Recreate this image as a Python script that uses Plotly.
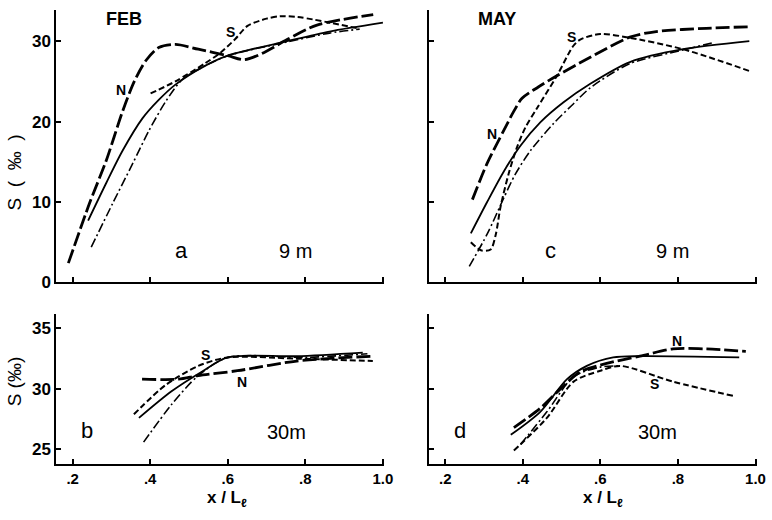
import plotly.graph_objects as go

# ---------------- data ----------------
x_ticks = [0.2, 0.4, 0.6, 0.8, 1.0]
x_ticktext = [".2", ".4", ".6", ".8", "1.0"]
y_ticks_9m = [0, 10, 20, 30]
y_ticks_30m = [25, 30, 35]

# Panel a: FEB, 9 m
a_N_x = [0.189, 0.244, 0.287, 0.329, 0.359, 0.389, 0.422, 0.465, 0.524, 0.6, 0.643, 0.694, 0.753, 0.83, 0.975]
a_N_y = [2.4, 9.9, 15.2, 21.3, 25.0, 27.6, 29.2, 29.6, 29.0, 28.2, 27.7, 28.6, 30.2, 32.0, 33.3]
a_S_x = [0.401, 0.465, 0.54, 0.582, 0.62, 0.651, 0.70, 0.735, 0.78, 0.82, 0.863, 0.935]
a_S_y = [23.5, 25.0, 27.2, 28.6, 30.3, 31.9, 32.8, 33.1, 33.0, 32.7, 32.3, 31.6]
a_M_x = [0.24, 0.287, 0.329, 0.38, 0.422, 0.465, 0.54, 0.6, 0.753, 0.862, 1.0]
a_M_y = [7.7, 12.4, 16.4, 20.4, 22.7, 24.6, 26.9, 28.2, 30.0, 31.2, 32.3]
a_D_x = [0.248, 0.304, 0.355, 0.397, 0.44, 0.482, 0.54, 0.6, 0.753, 0.862, 0.94]
a_D_y = [4.4, 9.9, 14.8, 18.9, 22.5, 25.2, 26.9, 28.2, 29.9, 31.0, 31.5]

# Panel c: MAY, 9 m
c_N_x = [0.27, 0.308, 0.351, 0.377, 0.398, 0.44, 0.488, 0.574, 0.676, 0.744, 0.873, 0.988]
c_N_y = [10.3, 14.8, 18.9, 21.3, 22.9, 24.3, 25.7, 28.0, 30.5, 31.2, 31.6, 31.8]
c_S_x = [0.266, 0.292, 0.317, 0.33, 0.343, 0.364, 0.385, 0.407, 0.437, 0.488, 0.53, 0.548, 0.6, 0.667, 0.813, 0.984]
c_S_y = [5.0, 4.0, 4.1, 5.9, 9.5, 13.6, 16.8, 19.3, 21.7, 25.7, 29.4, 30.2, 30.9, 30.5, 29.0, 26.3]
c_M_x = [0.266, 0.308, 0.351, 0.394, 0.445, 0.505, 0.574, 0.676, 0.813, 0.984]
c_M_y = [6.1, 10.0, 13.8, 17.0, 19.9, 22.4, 24.7, 27.4, 29.0, 30.0]
c_D_x = [0.262, 0.308, 0.351, 0.38, 0.42, 0.48, 0.526, 0.574, 0.676, 0.813, 0.89]
c_D_y = [2.0, 6.0, 10.5, 13.4, 16.4, 19.8, 22.0, 24.2, 27.2, 28.9, 29.8]

# Panel b: FEB, 30 m
b_N_x = [0.379, 0.473, 0.524, 0.625, 0.778, 0.974]
b_N_y = [30.8, 30.8, 31.1, 31.5, 32.3, 32.7]
b_S_x = [0.358, 0.439, 0.524, 0.6, 0.778, 0.974]
b_S_y = [27.9, 30.3, 31.9, 32.6, 32.5, 32.3]
b_M_x = [0.371, 0.455, 0.532, 0.6, 0.778, 0.948]
b_M_y = [27.6, 29.8, 31.4, 32.6, 32.7, 33.0]
b_D_x = [0.383, 0.455, 0.524, 0.6, 0.8, 0.96]
b_D_y = [25.6, 28.7, 31.1, 32.6, 32.6, 32.9]

# Panel d: MAY, 30 m
d_N_x = [0.377, 0.445, 0.497, 0.548, 0.616, 0.702, 0.787, 0.873, 0.975]
d_N_y = [26.8, 28.4, 30.0, 31.4, 32.1, 32.7, 33.3, 33.3, 33.1]
d_S_x = [0.377, 0.462, 0.531, 0.6, 0.651, 0.787, 0.945]
d_S_y = [24.9, 27.6, 30.6, 31.5, 31.9, 30.6, 29.4]
d_M_x = [0.369, 0.445, 0.514, 0.565, 0.633, 0.702, 0.958]
d_M_y = [26.2, 28.1, 30.8, 31.9, 32.6, 32.7, 32.6]
d_D_x = [0.394, 0.462, 0.531, 0.6, 0.65]
d_D_y = [25.4, 28.1, 31.0, 31.8, 31.9]

# ---------------- figure ----------------
W, H = 772, 520
fig = go.Figure()

styles = {
    "N": dict(width=2.8, dash="14px,4px"),
    "S": dict(width=2.0, dash="6px,3px"),
    "M": dict(width=1.8, dash="solid"),
    "D": dict(width=1.6, dash="9px,3px,2px,3px"),
}

panels = [
    ("x", "y", [(a_N_x, a_N_y, "N"), (a_S_x, a_S_y, "S"), (a_M_x, a_M_y, "M"), (a_D_x, a_D_y, "D")]),
    ("x2", "y2", [(c_N_x, c_N_y, "N"), (c_S_x, c_S_y, "S"), (c_M_x, c_M_y, "M"), (c_D_x, c_D_y, "D")]),
    ("x3", "y3", [(b_N_x, b_N_y, "N"), (b_S_x, b_S_y, "S"), (b_M_x, b_M_y, "M"), (b_D_x, b_D_y, "D")]),
    ("x4", "y4", [(d_N_x, d_N_y, "N"), (d_S_x, d_S_y, "S"), (d_M_x, d_M_y, "M"), (d_D_x, d_D_y, "D")]),
]
for xa, ya, curves in panels:
    for xs, ys, kind in curves:
        st = styles[kind]
        fig.add_trace(go.Scatter(
            x=xs, y=ys, xaxis=xa, yaxis=ya, mode="lines",
            line=dict(color="black", width=st["width"], dash=st["dash"],
                      shape="spline", smoothing=0.8),
            showlegend=False, hoverinfo="skip"))

def px(x):
    return x / W

def py(y):
    return 1 - y / H

FONT = "Liberation Sans"
ytick_font = dict(family=FONT, size=17, color="black", weight="bold")
xtick_font = dict(family=FONT, size=15, color="black", weight="bold")

def xaxis(domain, anchor, labels):
    return dict(domain=domain, anchor=anchor, range=[0.158, 1.004],
                tickvals=x_ticks, ticktext=x_ticktext, showticklabels=labels,
                ticks="inside", ticklen=5, tickwidth=1.5, tickcolor="black",
                showline=True, linecolor="black", linewidth=2, mirror=False,
                showgrid=False, zeroline=False, tickfont=xtick_font)

def yaxis(domain, anchor, rng, ticks, labels):
    return dict(domain=domain, anchor=anchor, range=rng,
                tickvals=ticks, showticklabels=labels,
                ticks="inside", ticklen=5, tickwidth=1.5, tickcolor="black",
                showline=True, linecolor="black", linewidth=2, mirror=False,
                showgrid=False, zeroline=False, tickfont=ytick_font)

left_dom = [px(57), px(389)]
right_dom = [px(434), px(766)]
top_dom = [py(288), py(10)]
bot_dom = [py(473), py(320)]

fig.update_layout(
    width=W, height=H, margin=dict(l=0, r=0, t=0, b=0),
    paper_bgcolor="white", plot_bgcolor="white",
    xaxis=xaxis(left_dom, "y", False),
    yaxis=yaxis(top_dom, "x", [0, 33.9], y_ticks_9m, True),
    xaxis2=xaxis(right_dom, "y2", False),
    yaxis2=yaxis(top_dom, "x2", [0, 33.9], y_ticks_9m, False),
    xaxis3=xaxis(left_dom, "y3", True),
    yaxis3=yaxis(bot_dom, "x3", [23.8, 36.2], y_ticks_30m, True),
    xaxis4=xaxis(right_dom, "y4", True),
    yaxis4=yaxis(bot_dom, "x4", [23.8, 36.2], y_ticks_30m, False),
)

def label(text, x, y, size, bold=True, angle=0):
    fig.add_annotation(text=text, x=px(x), y=py(y), xref="paper", yref="paper",
                       showarrow=False, textangle=angle,
                       font=dict(family=FONT, size=size, color="black",
                                 weight="bold" if bold else "normal"),
                       xanchor="center", yanchor="middle")

label("FEB", 125, 19, 18)
label("MAY", 503, 19, 18)
label("N", 122, 92, 14)
label("S", 233, 33, 14)
label("a", 184, 255, 22, bold=False)
label("9 m", 299, 256, 20, bold=False)
label("N", 498, 137, 14)
label("S", 578, 38, 14)
label("c", 557, 255, 22, bold=False)
label("9 m", 680, 256, 20, bold=False)
label("S", 208, 362, 14)
label("N", 245, 389, 14)
label("b", 88, 439, 22, bold=False)
label("30m", 290, 440, 20, bold=False)
label("N", 685, 348, 14)
label("S", 662, 392, 14)
label("d", 465, 439, 22, bold=False)
label("30m", 665, 440, 20, bold=False)
label("S  (  ‰  )", 15, 176, 19, bold=False, angle=-90)
label("S (‰)", 15, 389, 19, bold=False, angle=-90)
label("x / L<sub>ℓ</sub>", 230, 509, 17)
label("x / L<sub>ℓ</sub>", 610, 509, 17)

fig.write_html("out.html")
